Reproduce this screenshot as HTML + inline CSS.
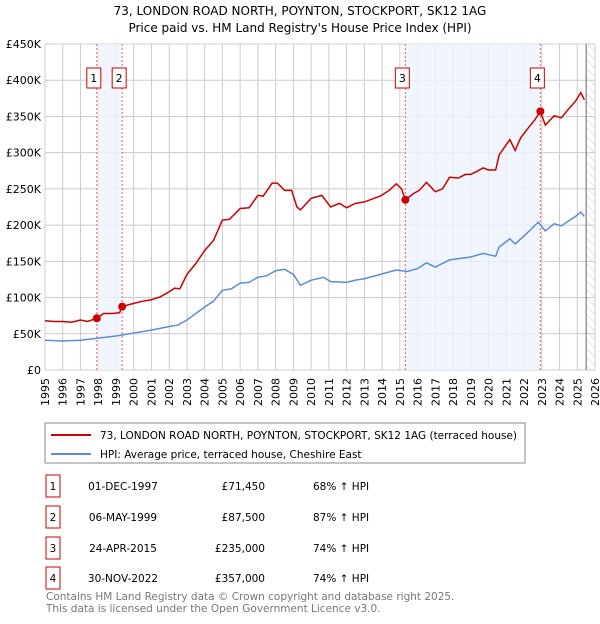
<!DOCTYPE html>
<html><head><meta charset="utf-8"><style>
body{margin:0;background:#fff;font-family:"DejaVu Sans","Liberation Sans",sans-serif;}
svg text{font-family:"DejaVu Sans","Liberation Sans",sans-serif;}
</style></head><body>
<svg id="c" width="600" height="620" xmlns="http://www.w3.org/2000/svg">
<defs><pattern id="hatch" width="6" height="6" patternUnits="userSpaceOnUse" patternTransform="rotate(-45)"><line x1="0" y1="0" x2="0" y2="6" stroke="#ccc" stroke-width="1"/></pattern></defs>
<text x="300" y="15" text-anchor="middle" font-size="12" fill="#000">73, LONDON ROAD NORTH, POYNTON, STOCKPORT, SK12 1AG</text>
<text x="300" y="32" text-anchor="middle" font-size="12" fill="#000">Price paid vs. HM Land Registry's House Price Index (HPI)</text>
<g id="grid"></g><g id="shade"></g><g id="series"></g><g id="marks"></g><g id="axes"></g>
<rect x="45" y="423" width="480" height="40" fill="#fff" stroke="#888"/>
<line x1="51" y1="435" x2="91" y2="435" stroke="#cc0000" stroke-width="2"/>
<text x="100" y="439" font-size="10.5">73, LONDON ROAD NORTH, POYNTON, STOCKPORT, SK12 1AG (terraced house)</text>
<line x1="51" y1="454" x2="91" y2="454" stroke="#5b8dd6" stroke-width="2"/>
<text x="100" y="458" font-size="10.5">HPI: Average price, terraced house, Cheshire East</text>
<g id="table"></g>
<text x="46" y="600" font-size="10.5" fill="#777">Contains HM Land Registry data © Crown copyright and database right 2025.</text>
<text x="46" y="612" font-size="10.5" fill="#777">This data is licensed under the Open Government Licence v3.0.</text>
</svg>
<script>
const redYears=[1995,1995.5,1996,1996.5,1997,1997.4,1997.92,1998.3,1998.8,1999.2,1999.35,1999.7,2000,2000.5,2001,2001.5,2002,2002.3,2002.6,2003,2003.5,2004,2004.5,2005,2005.4,2006,2006.5,2007,2007.3,2007.8,2008.1,2008.5,2008.9,2009.2,2009.4,2010,2010.6,2011.1,2011.6,2012,2012.5,2013,2013.9,2014.4,2014.8,2015.1,2015.31,2015.8,2016.1,2016.5,2017,2017.4,2017.8,2018.3,2018.7,2019,2019.4,2019.7,2020,2020.4,2020.6,2021.2,2021.5,2021.8,2022.3,2022.6,2022.92,2023.2,2023.7,2024.1,2024.5,2024.9,2025.2,2025.4];
const redValues=[68,67,67,66,69,67,71.45,78,78,79,87.5,90,92,95,97,101,108,113,112,132,147,165,179,207,208,223,224,241,240,258,258,248,248,225,221,237,241,225,230,224,230,232,240,248,257,250,235,244,248,259,246,250,266,265,270,270,275,279,276,276,297,318,303,320,336,345,357,338,351,348,360,371,383,373];
const blueYears=[1995,1996,1997,1998,1999,2000,2001,2002,2002.5,2003,2003.5,2004,2004.5,2005,2005.5,2006,2006.5,2007,2007.5,2008,2008.5,2009,2009.4,2010,2010.7,2011.1,2012,2012.5,2013,2013.9,2014.8,2015.4,2016,2016.5,2017,2017.8,2019,2019.7,2020.4,2020.6,2021.2,2021.5,2022,2022.8,2023.2,2023.7,2024.1,2024.9,2025.2,2025.4];
const blueValues=[41,40,41,44,47,51,55,60,62,69,78,87,95,110,112,120,121,128,130,137,139,132,117,124,128,122,121,124,126,132,138,136,140,148,142,152,156,161,157,170,181,174,185,204,192,202,199,212,218,212];
const saleYears=[1997.92,1999.35,2015.31,2022.92];
const saleValues=[71.45,87.5,235,357];
const saleLabels=["1","2","3","4"];
const saleDates=["01-DEC-1997","06-MAY-1999","24-APR-2015","30-NOV-2022"];
const salePrices=["£71,450","£87,500","£235,000","£357,000"];
const salePct=["68% ↑ HPI","87% ↑ HPI","74% ↑ HPI","74% ↑ HPI"];
const yTicks=[0,50,100,150,200,250,300,350,400,450];
const yTickLabels=["£0","£50K","£100K","£150K","£200K","£250K","£300K","£350K","£400K","£450K"];
const xTicks=[1995,1996,1997,1998,1999,2000,2001,2002,2003,2004,2005,2006,2007,2008,2009,2010,2011,2012,2013,2014,2015,2016,2017,2018,2019,2020,2021,2022,2023,2024,2025,2026];
const NS="http://www.w3.org/2000/svg";
const X0=45,X1=595,Y0=370,Y1=44;
const xs=t=>X0+(t-1995)/31*(X1-X0);
const ys=v=>Y0-v/450*(Y0-Y1);
function mk(parent,tag,attrs){const e=document.createElementNS(NS,tag);for(const k in attrs)e.setAttribute(k,attrs[k]);document.getElementById(parent).appendChild(e);return e;}
xTicks.forEach(t=>{const l=mk('grid','line',{x1:xs(t),x2:xs(t),y1:Y1,y2:Y0,stroke:'#ccc'});


const tx=mk('axes','text',{x:0,y:0,'font-size':11,'text-anchor':'end',transform:`translate(${xs(t)+4},378) rotate(-90)`});tx.textContent=t;

});
yTicks.forEach((v,i)=>{const l=mk('grid','line',{x1:X0,x2:X1,y1:ys(v),y2:ys(v),stroke:'#ccc'});


const tx=mk('axes','text',{x:41,y:ys(v)+4,'font-size':11,'text-anchor':'end'});tx.textContent=yTickLabels[i];

});
const h=mk('grid','rect',{x:xs(2025.5),y:Y1,width:X1-xs(2025.5),height:Y0-Y1,fill:'url(#hatch)'});


const hl=mk('grid','line',{x1:xs(2025.5),x2:xs(2025.5),y1:Y1,y2:Y0,stroke:'#666'});


[[0,1],[2,3]].forEach(p=>{const r=mk('shade','rect',{x:xs(saleYears[p[0]]),y:Y1,width:xs(saleYears[p[1]])-xs(saleYears[p[0]]),height:Y0-Y1,fill:'#eef3fc',opacity:0.8});

});
saleYears.forEach((t,i)=>{const l=mk('shade','line',{x1:xs(t),x2:xs(t),y1:Y1,y2:Y0,stroke:'#f06060','stroke-dasharray':'2,2'});


const r=mk('marks','rect',{x:xs(t)-10,y:68,width:14,height:20,fill:'#fff',stroke:'#cc0000'});


const tx=mk('marks','text',{x:xs(t)-3,y:82,'font-size':11,'text-anchor':'middle'});tx.textContent=saleLabels[i];


const c=mk('marks','circle',{cx:xs(t),cy:ys(saleValues[i]),r:4,fill:'#cc0000'});

});
const bl=mk('series','polyline',{points:blueYears.map((t,i)=>xs(t)+','+ys(blueValues[i])).join(' '),fill:'none',stroke:'#5b8dd6','stroke-width':1.5});


const rl=mk('series','polyline',{points:redYears.map((t,i)=>xs(t)+','+ys(redValues[i])).join(' '),fill:'none',stroke:'#cc0000','stroke-width':1.5});


const rowsY=[486,517,548,578];
saleLabels.forEach((s,i)=>{const y=rowsY[i];
const r=mk('table','rect',{x:46,y:y-11,width:14,height:22,fill:'#fff',stroke:'#cc0000'});


const a=mk('table','text',{x:53,y:y+4,'font-size':10.5,'text-anchor':'middle'});a.textContent=s;


const d=mk('table','text',{x:123,y:y+4,'font-size':10.5,'text-anchor':'middle'});d.textContent=saleDates[i];


const p=mk('table','text',{x:265,y:y+4,'font-size':10.5,'text-anchor':'end'});p.textContent=salePrices[i];


const q=mk('table','text',{x:313,y:y+4,'font-size':10.5});q.textContent=salePct[i];

});
</script>
</body></html>
